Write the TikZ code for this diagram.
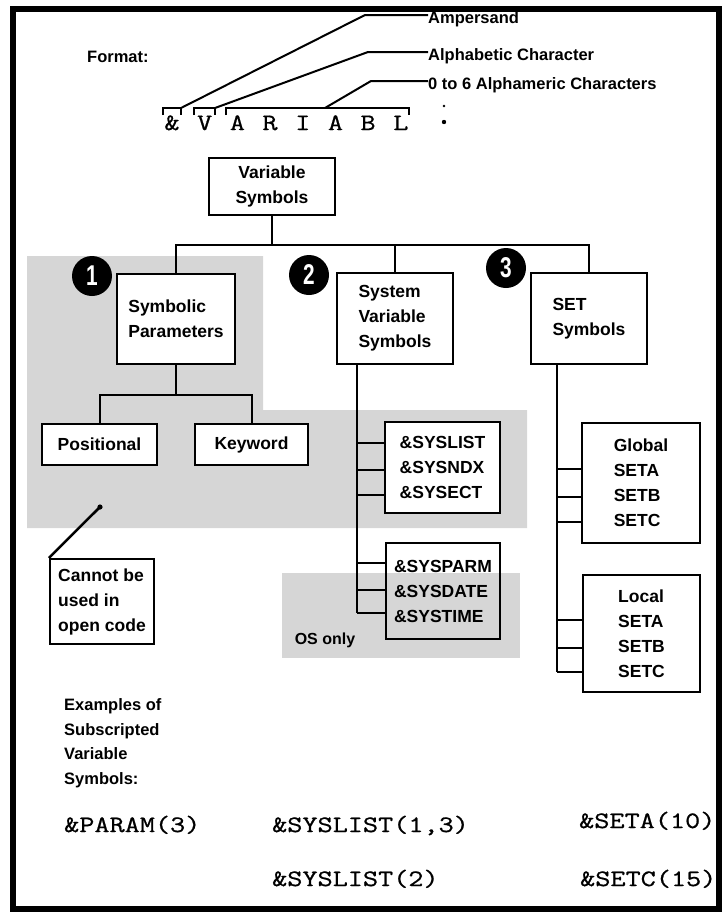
\documentclass[tikz,border=0pt]{standalone}
\usepackage{fontspec}
\setmainfont{Liberation Sans}
\newfontfamily\cmono[FakeStretch=1.25,FakeBold=0.8]{Latin Modern Mono}
\tikzset{
  box/.style={draw, line width=2.2pt, fill=white, inner sep=0pt, align=center},
  conn/.style={line width=2pt},
  lbl/.style={inner sep=0pt, font=\fontsize{17.5}{25}\selectfont\bfseries},
  head/.style={inner sep=0pt, font=\fontsize{16.5}{20}\selectfont\bfseries},
  mono/.style={inner sep=0pt, font=\fontsize{23.5}{28}\selectfont\cmono},
  numdot/.style={circle, fill=black, minimum size=40pt, inner sep=0pt, text=white, font=\fontsize{26}{26}\selectfont\bfseries},
  halftone/.style={fill=black!16, draw=none},
}
\begin{document}
\begin{tikzpicture}[x=1pt,y=-1pt, every node/.style={lbl}]
\useasboundingbox (0,0) rectangle (726,916);
% shaded areas
\fill[halftone] (27,256) -- (263,256) -- (263,410) -- (527,410) -- (527,528) -- (27,528) -- cycle;
\fill[halftone] (282,573) rectangle (520,658);
% frame
\draw[line width=6.5pt] (13,9) rectangle (719,909);

% header
\node[head, anchor=west] (fmt) at (87,57) {Format:};
\node[head, anchor=west] (amp) at (428,19) {Ampersand};
\node[head, anchor=west] (alp) at (428,56) {Alphabetic Character};
\node[head, anchor=west] (aln) at (428,85) {0 to 6 Alphameric Characters};
\foreach \ch/\x [count=\i] in {\&/172,V/204.7,A/237.4,R/270,I/302.8,A/335.5,B/368,L/400.8}
  \node[mono, anchor=base] (ch\i) at (\x,130) {\ch};
\coordinate (bA) at (181,108);
\coordinate (bV) at (215,108);
\coordinate (bN) at (325,108);
\draw[conn] (163,115) -- (163,108) -- (bA) -- (181,115);
\draw[conn] (194,115) -- (194,108) -- (bV) -- (215,115);
\draw[conn] (226,115) -- (226,108) -- (409,108) -- (409,115);
\draw[conn] (bA) -- (365,15) -- (amp.west |- 365,15);
\draw[conn] (bV) -- (368,52) -- (alp.west |- 368,52);
\draw[conn] (bN) -- (371,81) -- (aln.west |- 371,81);
\fill (444,106) circle (1.3);
\fill (444,122) circle (2.2);

% tree
\node[box, minimum width=126pt, minimum height=57pt] (vs) at (272,186.5) {Variable\\Symbols};
\node[box, minimum width=118pt, minimum height=90pt, align=left] (sp) at (176,319) {Symbolic\\Parameters};
\node[box, minimum width=116pt, minimum height=91pt, align=left] (sv) at (395,318.5) {System\\Variable\\Symbols};
\node[box, minimum width=116pt, minimum height=91pt, align=left] (st) at (589,318.5) {SET\\Symbols};
\coordinate (bus) at (0,245);
\draw[conn] (vs.south) -- (vs.south |- bus);
\draw[conn] (sp.north) -- (sp.north |- bus) -- (st.north |- bus) -- (st.north);
\draw[conn] (sv.north) -- (sv.north |- bus);

\node[numdot] (n1) at (92,276) {\scalebox{0.8}[1.1]{1}};
\node[numdot] (n2) at (309,275) {\scalebox{0.8}[1.1]{2}};
\node[numdot] (n3) at (506,268) {\scalebox{0.8}[1.1]{3}};

% symbolic parameters
\node[box, minimum width=115pt, minimum height=41pt] (pos) at (99.5,444.5) {Positional};
\node[box, minimum width=113pt, minimum height=41pt] (key) at (251.5,444.5) {Keyword};
\coordinate (sub) at (0,395);
\draw[conn] (sp.south) -- (sp.south |- sub);
\draw[conn] (pos.north) -- (pos.north |- sub) -- (key.north |- sub) -- (key.north);
\node[box, minimum width=104pt, minimum height=85pt, align=left] (cb) at (102,601.5) {Cannot be\\used in\\open code};
\coordinate (ptip) at (100,507);
\draw[line width=2.5pt] (cb.north west) -- (ptip);
\fill (ptip) circle (2.6);

% system variable symbols
\node[box, line width=2.8pt, minimum width=115pt, minimum height=91pt, align=left] (sl) at (442.5,467.5) {\&SYSLIST\\\&SYSNDX\\\&SYSECT};
\node[box, fill=none, minimum width=114pt, minimum height=96pt, align=left] (sy) at (443,591) {\&SYSPARM\\\&SYSDATE\\\&SYSTIME};
\coordinate (svx) at (357,364);
\draw[line width=2.6pt] (svx) -- (357,613);
\foreach \y in {443,470,495} \draw[conn] (357,\y) -- (sl.west |- 357,\y);
\foreach \y in {563,590,613} \draw[conn] (357,\y) -- (sy.west |- 357,\y);
\node[font=\fontsize{16}{16}\selectfont\bfseries] (os) at (325,640) {OS only};

% SET symbols
\node[box, minimum width=118pt, minimum height=120pt, align=left] (gl) at (641,483) {Global\\SETA\\SETB\\SETC};
\node[box, minimum width=117pt, minimum height=117pt, align=left] (lo) at (641.5,633.5) {Local\\SETA\\SETB\\SETC};
\coordinate (stx) at (557,364);
\draw[conn] (stx) -- (557,672);
\foreach \y in {469,497,522} \draw[conn] (557,\y) -- (gl.west |- 557,\y);
\foreach \y in {620,648,672} \draw[conn] (557,\y) -- (lo.west |- 557,\y);

% examples
\node[anchor=west, align=left, font=\fontsize{16.5}{24.5}\selectfont\bfseries] (ex) at (64,743) {Examples of\\Subscripted\\Variable\\Symbols:};
\node[mono, anchor=base west] (e1) at (64,832) {\&PARAM(3)};
\node[mono, anchor=base west] (e2) at (272,832) {\&SYSLIST(1,3)};
\node[mono, anchor=base west] (e3) at (579,828) {\&SETA(10)};
\node[mono, anchor=base west] (e4) at (272,886) {\&SYSLIST(2)};
\node[mono, anchor=base west] (e5) at (580,886) {\&SETC(15)};
\end{tikzpicture}
\end{document}
